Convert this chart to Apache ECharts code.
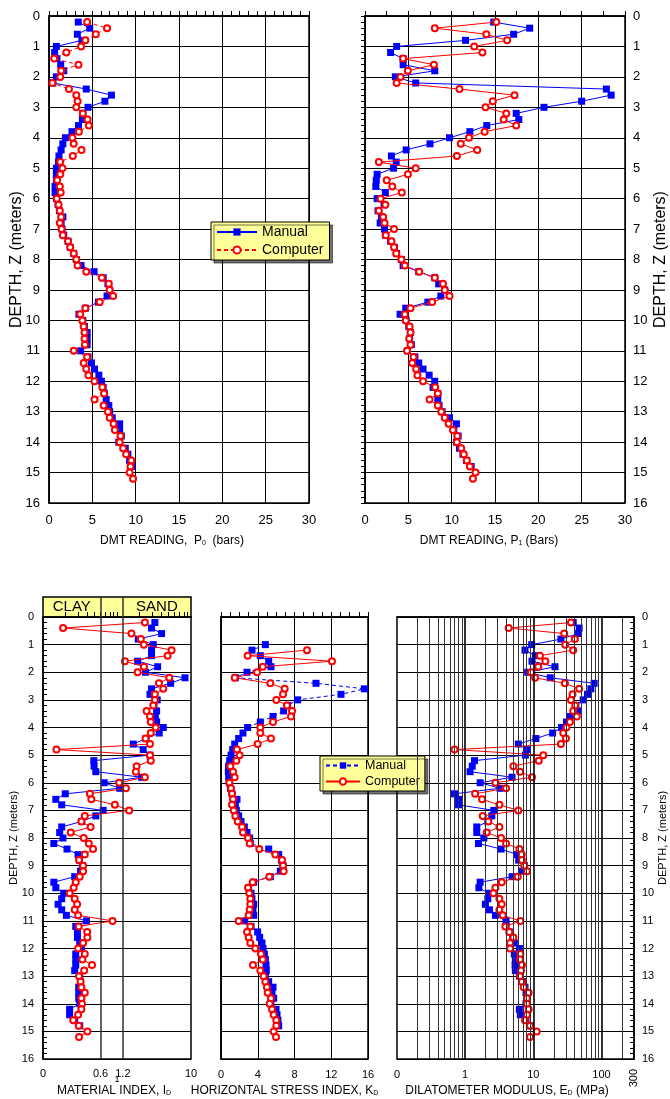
<!DOCTYPE html>
<html><head><meta charset="utf-8">
<script src="https://cdn.jsdelivr.net/npm/echarts@6/dist/echarts.min.js"></script>
<style>html,body{margin:0;padding:0;background:#fff}#c{width:670px;height:1099px}</style>
</head><body><div id="c"></div>
<script>
// ---------------- DATA ----------------
const DEPTH = [0.2,0.4,0.6,0.8,1.0,1.2,1.4,1.6,1.8,2.0,2.2,2.4,2.6,2.8,3.0,3.2,3.4,3.6,3.8,4.0,
  4.2,4.4,4.6,4.8,5.0,5.2,5.4,5.6,5.8,6.0,6.2,6.4,6.6,6.8,7.0,7.2,7.4,7.6,7.8,8.0,
  8.2,8.4,8.6,8.8,9.0,9.2,9.4,9.6,9.8,10.0,10.2,10.4,10.6,10.8,11.0,11.2,11.4,11.6,11.8,12.0,
  12.2,12.4,12.6,12.8,13.0,13.2,13.4,13.6,13.8,14.0,14.2,14.4,14.6,14.8,15.0,15.2];

const P0_MANUAL = [3.38,4.7,3.27,3.8,0.85, 0.65,0.92,1.35,1.7,0.85, 0.45,4.3,7.2,6.45,4.5, 3.9,3.85,3.4,2.65,1.9,
  1.6,1.4,1.15,1.1,0.85, 0.85,0.85,0.7,0.7,0.85, 1.05,1.2,1.6,1.4,1.5, 1.7,2.2,2.45,2.85,3.15,
  3.7,5.2,6.25,6.8,7.0, 6.7,5.7,4.2,3.45,3.9, 4.1,4.4,4.4,4.4,3.65, 4.5,4.9,5.25,5.75,6.05,
  6.25,6.4,6.6,6.9,7.0, 7.3,8.15,8.15,8.35,8.05, 8.8,9.1,9.3,9.6];
const P0_COMPUTER = [4.4,6.7,5.4,4.2,3.7, 2.0,0.6,3.4,1.4,1.3, 0.4,2.3,3.15,3.3,3.15, 3.9,4.45,4.6,3.45,2.7,
  2.85,3.75,2.75,1.3,1.55, 1.3,0.95,1.25,1.35,0.9, 1.1,1.25,1.4,1.25,1.45, 1.6,2.2,2.45,2.85,3.15,
  3.3,4.3,6.1,6.9,7.0, 7.4,5.85,4.2,3.6,3.85, 4.0,4.1,4.1,4.15,2.85, 4.4,4.0,4.3,4.55,5.25,
  6.15,6.35,5.25,6.3,6.8, 7.0,7.45,7.6,8.25,8.15, 8.55,8.9,9.5,9.4,9.3, 9.7];

const P1_MANUAL = [14.85,19.0,17.15,11.6,3.65, 2.95,4.4,4.4,8.05,3.5, 5.85,27.85,28.4,25.0,20.65, 17.45,17.75,14.05,12.1,9.75,
  7.5,4.75,3.05,3.6,3.3, 1.4,1.3,1.25,2.35,1.4, 2.2,1.5,1.9,1.75,2.25, 2.35,2.95,3.4,3.65,4.2,
  4.4,6.2,8.05,8.5,9.2, 8.75,7.25,4.7,4.05,4.75, 5.05,5.25,5.15,5.35,4.9, 5.75,6.2,6.7,7.4,8.05,
  7.85,8.4,8.4,8.55,8.9, 9.75,10.55,10.25,10.75,10.55, 10.9,11.3,11.7,12.25];
const P1_COMPUTER = [15.15,8.05,14.0,16.4,12.6, 13.55,4.4,7.95,4.95,4.1, 3.65,10.9,17.25,14.75,13.9, 16.3,16.0,17.45,13.8,12.0,
  11.05,12.95,10.6,1.6,5.85, 4.95,2.5,3.15,4.25,1.8, 2.35,1.6,2.1,2.25,3.35, 2.4,3.05,3.35,3.6,4.2,
  4.6,6.25,8.05,9.0,9.2, 9.75,7.75,5.25,4.6,4.7, 5.15,5.25,5.1,5.25,4.85, 5.6,5.45,5.9,6.05,6.7,
  8.1,8.4,7.45,8.4,8.8, 9.2,9.65,10.15,10.65,10.6, 11.1,11.4,11.75,12.1,12.75, 12.45];

const ID_MANUAL = [3.25,2.93,4.0,1.94,3.09, 2.93,2.93,1.9,3.54,2.43, 8.3,5.3,2.93,2.79,3.5, 3.16,3.43,3.3,3.43,4.22,
  3.72,2.46,1.66,2.26,2.79, 0.486,0.49,0.517,2.15,0.67, 1.09,0.2,0.149,0.179,0.65, 0.517,0.334,0.179,0.168,0.186,
  0.14,0.211,0.298,0.31,0.341, 0.322,0.268,0.14,0.149,0.19, 0.179,0.16,0.179,0.207,0.386, 0.277,0.292,0.292,0.314,0.33,
  0.277,0.277,0.277,0.268,0.314, 0.322,0.304,0.304,0.304,0.314, 0.229,0.229,0.268,0.314];
const ID_COMPUTER = [2.38,0.187,1.57,2.1,2.31, 5.47,4.83,1.28,2.31,1.9, 5.09,3.69,4.22,3.25,3.25, 3.09,2.51,2.79,2.86,3.33,
  2.86,2.43,2.79,0.152,2.79, 2.86,1.84,1.8,2.38,1.07, 1.32,0.43,0.45,0.935,1.46, 0.367,0.33,0.44,0.237,0.355,
  0.416,0.475,0.367,0.307,0.348, 0.348,0.314,0.277,0.26,0.229, 0.268,0.289,0.268,0.298,0.87, 0.304,0.396,0.398,0.348,0.298,
  0.367,0.341,0.46,0.36,0.307, 0.322,0.33,0.367,0.33,0.337, 0.33,0.298,0.256,0.304,0.398, 0.307];

const KD_MANUAL = [null,null,null,null,4.83, 3.37,4.28,5.19,5.44,2.83, 1.56,10.34,15.6,13.06,8.35, 7.26,6.82,5.66,4.28,2.9,
  2.39,1.92,1.49,1.27,1.09, 0.94,0.83,0.8,0.83,0.91, 1.02,1.2,1.74,1.56,1.67, 1.92,2.18,2.54,2.83,3.12,
  3.19,5.19,6.28,6.57,6.75, 6.46,5.37,3.56,3.01,3.27, 3.37,3.56,3.48,3.56,2.58, 3.27,3.99,4.21,4.46,4.57,
  4.72,4.83,4.9,4.93,4.83, 5.19,5.66,5.55,5.73,5.44, 5.99,6.1,6.2,6.28];
const KD_COMPUTER = [null,null,null,null,null, 9.36,2.9,12.08,4.54,3.92, 1.49,5.37,6.93,6.75,6.02, 7.18,7.73,7.62,5.66,4.28,
  4.28,5.44,3.99,1.74,2.03, 1.67,1.02,1.31,1.49,0.91, 1.09,1.2,1.31,1.2,1.38, 1.56,1.81,2.29,2.39,2.94,
  3.12,4.17,5.91,6.64,6.75, 6.82,5.26,3.45,2.94,3.08, 3.19,3.19,3.12,3.01,1.92, 3.19,2.83,3.01,3.19,3.74,
  4.35,4.54,3.48,4.28,4.64, 4.83,5.0,5.08,5.44,5.3, 5.55,5.73,6.02,6.02,5.73, 5.99];

const ED_MANUAL = [38.5,47.1,46.1,25.4,9.46, 7.55,10.7,9.56,20.8,8.26, 17.7,78.1,69.8,62.4,53.9, 42.1,46.1,34.4,30.7,26.0,
  19.2,10.9,6.03,7.99,7.64, 1.37,1.27,1.18,4.87,1.66, 3.25,0.698,0.8,0.8,2.63, 2.46,2.15,1.48,1.48,1.88,
  1.57,3.36,5.77,6.1,7.39, 6.75,4.87,1.66,1.59,2.22, 2.15,1.98,2.27,2.78,3.98, 3.98,4.45,4.98,5.27,6.24,
  5.27,5.45,5.4,5.45,6.24, 6.98,7.55,7.81,7.99,7.81, 6.24,6.45,7.81,9.04];
const ED_COMPUTER = [35.6,4.35,28.4,40.7,29.4, 38.5,12.5,15.0,11.8,9.25, 10.6,29.1,47.1,37.6,35.6, 41.2,38.5,43.5,34.4,30.7,
  27.5,30.1,25.4,0.698,14.0, 12.0,5.1,6.38,9.56,2.78, 3.98,1.4,1.77,3.18,6.03, 1.81,2.19,3.18,2.07,3.36,
  3.98,6.24,6.75,6.8,7.39, 8.08,5.9,3.44,2.78,2.6, 3.18,3.44,3.18,3.56,6.45, 3.89,4.45,5.1,4.56,4.56,
  6.45,6.38,6.8,6.6,6.38, 6.8,7.22,8.54,8.08,8.08, 8.54,8.08,7.55,8.94,11.2, 8.94];

// tick / grid positions
const ID_LABELS = [0.1, 0.6, 1, 1.2, 10];
const ID_TICKS = [0.2,0.3,0.4,0.5,0.6,0.7,0.8,0.9,1,2,3,4,5,6,7,8,9];
const ID_BOUNDS = [0.6, 1.2];
const ED_LABELS = [0.1, 1, 10, 100];
const ED_END_LABEL = [300];
const ED_GRID_MINOR = [0.2,0.3,0.4,0.5,0.6,0.7,0.8,0.9,2,3,4,5,6,7,8,9,20,30,40,50,60,70,80,90,200];
const ED_GRID_MAJOR = [1, 10, 100];
const SOIL_CLASSES = [['CLAY', 0.1, 0.6], ['SAND', 1.2, 10]];

// ---------------- CHART ----------------
const BLACK = '#000';
const FONT = 'Liberation Sans, Arial, sans-serif';
function pts(vals){ const o=[]; vals.forEach((v,i)=>{ if(v!=null) o.push([v, DEPTH[i]]); }); return o; }
function manual(vals, idx, dashed){
  return {type:'line', name:'Manual', xAxisIndex:idx, yAxisIndex:idx, data:pts(vals),
    symbol:'rect', symbolSize:7, color:'#0000ff', z:3,
    itemStyle:{color:'#0000ff'}, lineStyle:{color:'#0000ff', width:1, type: dashed?[4,3]:'solid'}};
}
function computer(vals, idx, dashed){
  return {type:'line', name:'Computer', xAxisIndex:idx, yAxisIndex:idx, data:pts(vals),
    symbol:'emptyCircle', symbolSize:6, color:'#ff0000', z:4,
    itemStyle:{color:'#ff0000', borderWidth:1.3}, lineStyle:{color:'#ff0000', width:1, type: dashed?[4,3]:'solid'}};
}
const gridBase = {show:true, borderColor:BLACK, borderWidth:1.5, backgroundColor:'#fff', outerBoundsMode:'none', containLabel:false};
const subRich = (fs)=>({t:{fontSize:fs, color:BLACK, fontFamily:FONT}, s:{fontSize:Math.round(fs*0.6), color:BLACK, fontFamily:FONT, verticalAlign:'bottom', lineHeight:fs*0.6}});

function depthAxis(gi, pos, showLabels, fs, name, nameFs, gap, minor){
  return {gridIndex:gi, type:'value', inverse:true, min:0, max:16, interval:1, position:pos,
    axisLine:{show:true, lineStyle:{color:BLACK, width:1.5}},
    axisTick:{show:true, inside:true, length:4, lineStyle:{color:BLACK}},
    minorTick:{show:minor, splitNumber:5, length:4, lineStyle:{color:BLACK}},
    splitLine:{show:true, lineStyle:{color:BLACK, width:1}},
    axisLabel:{show:showLabels, fontSize:fs, color:BLACK, fontFamily:FONT, margin:pos==='left'?9:8, showMinLabel:true, showMaxLabel:true},
    name:name, nameLocation:'middle', nameRotate:90, nameGap:gap, nameMoveOverlap:false,
    nameTextStyle:{fontSize:nameFs, color:BLACK, fontFamily:FONT}};
}

const option = {
  animation:false,
  backgroundColor:'#fff',
  textStyle:{fontFamily:FONT, color:BLACK},
  grid:[
    Object.assign({left:49, top:16, width:260, height:487}, gridBase),
    Object.assign({left:365, top:16, width:260, height:487}, gridBase),
    Object.assign({left:43, top:617, width:148, height:442}, gridBase),
    Object.assign({left:221, top:617, width:147, height:442}, gridBase),
    Object.assign({left:397, top:617, width:237, height:442}, gridBase),
    Object.assign({}, gridBase, {left:43, top:597, width:148, height:20, backgroundColor:'#ffff99'})
  ],
  legend:[
    {data:['Manual','Computer'], left:211, top:222, orient:'vertical', selectedMode:false,
     backgroundColor:'#ffff99', borderColor:BLACK, borderWidth:1, padding:[3,6,3,5], itemGap:4,
     itemWidth:40, itemHeight:9, shadowColor:'rgba(0,0,0,0.55)', shadowOffsetX:3, shadowOffsetY:3, shadowBlur:0,
     textStyle:{fontSize:14, color:BLACK, fontFamily:FONT}},
    {data:[{name:'Manual', lineStyle:{type:[4,3]}}, {name:'Computer', lineStyle:{type:'solid'}}],
     left:320, top:756, orient:'vertical', selectedMode:false,
     backgroundColor:'#ffff99', borderColor:BLACK, borderWidth:1, padding:[3,5,3,5], itemGap:3,
     itemWidth:34, itemHeight:8, shadowColor:'rgba(0,0,0,0.55)', shadowOffsetX:3, shadowOffsetY:3, shadowBlur:0,
     textStyle:{fontSize:12.5, color:BLACK, fontFamily:FONT}}
  ],
  xAxis:[
    {gridIndex:0, type:'value', min:0, max:30, interval:5, position:'bottom',
     axisLine:{show:true, lineStyle:{color:BLACK, width:1.5}},
     axisTick:{show:true, inside:true, length:5, lineStyle:{color:BLACK}},
     minorTick:{show:true, splitNumber:5, length:5, lineStyle:{color:BLACK}},
     splitLine:{show:true, lineStyle:{color:BLACK, width:1}},
     axisLabel:{fontSize:13, color:BLACK, margin:11, fontFamily:FONT, showMinLabel:true, showMaxLabel:true},
     name:'{t|DMT READING,  P}{s|0}{t|  (bars)}', nameLocation:'middle', nameGap:32, nameMoveOverlap:false,
     nameTextStyle:{padding:[0,14,0,0], rich:subRich(12)}},
    {gridIndex:1, type:'value', min:0, max:30, interval:5, position:'bottom',
     axisLine:{show:true, lineStyle:{color:BLACK, width:1.5}},
     axisTick:{show:true, inside:true, length:5, lineStyle:{color:BLACK}},
     minorTick:{show:true, splitNumber:2, length:5, lineStyle:{color:BLACK}},
     splitLine:{show:true, lineStyle:{color:BLACK, width:1}},
     axisLabel:{fontSize:13, color:BLACK, margin:11, fontFamily:FONT, showMinLabel:true, showMaxLabel:true},
     name:'{t|DMT READING, P}{s|1}{t| (Bars)}', nameLocation:'middle', nameGap:32, nameMoveOverlap:false,
     nameTextStyle:{padding:[0,12,0,0], rich:subRich(12)}},
    {gridIndex:2, type:'log', logBase:10, min:0.1, max:10, position:'bottom',
     axisLine:{show:true, lineStyle:{color:BLACK, width:1.5}},
     axisTick:{show:true, inside:true, length:5, customValues:ID_TICKS, lineStyle:{color:BLACK}},
     splitLine:{show:false},
     axisLabel:{fontSize:11, color:BLACK, margin:9, fontFamily:FONT, customValues:ID_LABELS,
       formatter:function(v){ if(v<0.15) return '0'; if(Math.abs(v-1)<1e-6) return '{o|1}'; return String(Math.round(v*10)/10); },
       rich:{o:{fontSize:9, color:BLACK, padding:[7,0,0,0]}}},
     name:'{t|MATERIAL INDEX, I}{s|D}', nameLocation:'middle', nameGap:26, nameMoveOverlap:false,
     nameTextStyle:{padding:[0,6,0,0], rich:subRich(12)}},
    {gridIndex:3, type:'value', min:0, max:16, interval:4, position:'bottom',
     axisLine:{show:true, lineStyle:{color:BLACK, width:1.5}},
     axisTick:{show:true, inside:true, length:5, lineStyle:{color:BLACK}},
     minorTick:{show:true, splitNumber:4, length:5, lineStyle:{color:BLACK}},
     splitLine:{show:true, lineStyle:{color:BLACK, width:1}},
     axisLabel:{fontSize:11, color:BLACK, margin:10, fontFamily:FONT, showMinLabel:true, showMaxLabel:true},
     name:'{t|HORIZONTAL STRESS INDEX, K}{s|D}', nameLocation:'middle', nameGap:26, nameMoveOverlap:false,
     nameTextStyle:{padding:[0,20,0,0], rich:subRich(12)}},
    {gridIndex:4, type:'log', logBase:10, min:0.1, max:300, position:'bottom',
     axisLine:{show:true, lineStyle:{color:BLACK, width:1.5}},
     axisTick:{show:false},
     splitLine:{show:false},
     axisLabel:{fontSize:11, color:BLACK, margin:10, fontFamily:FONT, customValues:ED_LABELS,
       formatter:function(v){ return v<0.15 ? '0' : String(Math.round(v)); }},
     name:'{t|DILATOMETER MODULUS, E}{s|D}{t| (MPa)}', nameLocation:'middle', nameGap:26, nameMoveOverlap:false,
     nameTextStyle:{padding:[0,17,0,0], rich:subRich(12)}},
    {gridIndex:4, type:'log', logBase:10, min:0.1, max:300, position:'bottom',
     axisLine:{show:false}, axisTick:{show:false}, splitLine:{show:false},
     axisLabel:{fontSize:11, color:BLACK, margin:10, rotate:90, fontFamily:FONT, customValues:ED_END_LABEL,
       formatter:function(v){ return String(Math.round(v)); }}},
    {gridIndex:5, type:'log', logBase:10, min:0.1, max:10, show:false}
  ],
  yAxis:[
    depthAxis(0, 'left', true, 13, 'DEPTH, Z (meters)', 16, 24, false),
    depthAxis(1, 'right', true, 13, 'DEPTH, Z (meters)', 16, 28, true),
    depthAxis(2, 'left', true, 11, 'DEPTH, Z (meters)', 11, 24, true),
    depthAxis(3, 'left', false, 11, '', 11, 10, false),
    depthAxis(4, 'right', true, 11, 'DEPTH, Z (meters)', 11, 23, true),
    {gridIndex:5, type:'value', min:0, max:1, show:false}
  ],
  series:[
    // ED log grid lines
    {type:'line', xAxisIndex:4, yAxisIndex:4, data:[], silent:true, z:1,
     markLine:{silent:true, symbol:['none','none'], label:{show:false}, animation:false,
       data: ED_GRID_MINOR.map(v=>({xAxis:v, lineStyle:{color:'#333', width:1, type:'solid'}}))
         .concat(ED_GRID_MAJOR.map(v=>({xAxis:v, lineStyle:{color:BLACK, width:1.6, type:'solid'}})))}},
    // ID class boundaries
    {type:'line', xAxisIndex:2, yAxisIndex:2, data:[], silent:true, z:1,
     markLine:{silent:true, symbol:['none','none'], label:{show:false}, animation:false,
       lineStyle:{color:'#333', width:1.5, type:'solid'}, data: ID_BOUNDS.map(v=>({xAxis:v}))}},
    // CLAY / SAND header
    {type:'line', xAxisIndex:6, yAxisIndex:5, data:[], silent:true, z:2,
     markArea:{silent:true, itemStyle:{color:'rgba(0,0,0,0)'},
       label:{show:true, position:'inside', fontSize:15, color:BLACK, fontFamily:FONT},
       data: SOIL_CLASSES.map(c=>[{xAxis:c[1], name:c[0]}, {xAxis:c[2]}])},
     markLine:{silent:true, symbol:['none','none'], label:{show:false}, animation:false,
       lineStyle:{color:'#333', width:1.5, type:'solid'}, data: ID_BOUNDS.map(v=>({xAxis:v}))}},
    manual(P0_MANUAL, 0, false), computer(P0_COMPUTER, 0, true),
    manual(P1_MANUAL, 1, false), computer(P1_COMPUTER, 1, false),
    manual(ID_MANUAL, 2, false), computer(ID_COMPUTER, 2, false),
    manual(KD_MANUAL, 3, true), computer(KD_COMPUTER, 3, false),
    manual(ED_MANUAL, 4, false), computer(ED_COMPUTER, 4, false)
  ]
};
const chart = echarts.init(document.getElementById('c'), null, {renderer:'canvas'});
chart.setOption(option);
</script>
</body></html>
